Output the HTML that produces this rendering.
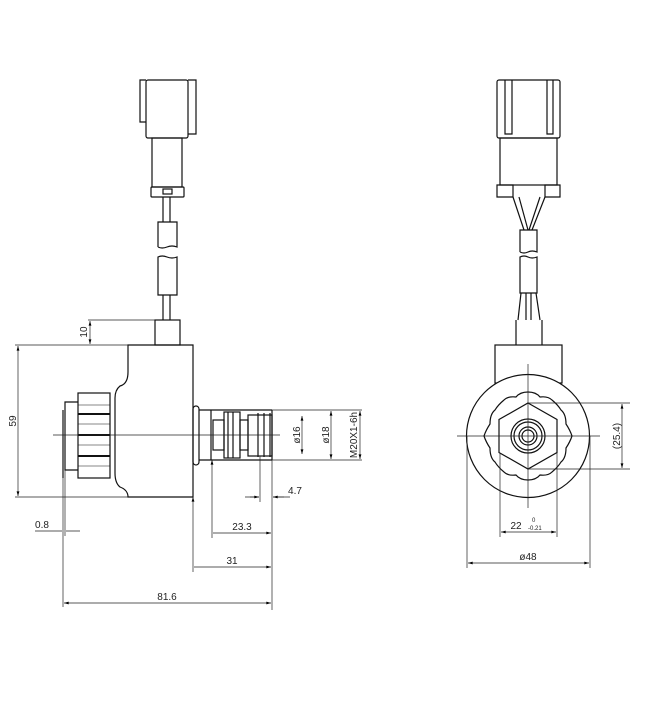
<!DOCTYPE html>
<html><head><style>body{margin:0;background:#fff}svg{display:block}</style></head><body>
<svg width="650" height="717" viewBox="0 0 650 717" xmlns="http://www.w3.org/2000/svg" font-family="Liberation Sans, sans-serif" font-size="10">
<defs><marker id="a" viewBox="0 0 10 6" refX="10" refY="3" markerWidth="8" markerHeight="4" orient="auto-start-reverse"><path d="M0,0L10,3L0,6z" fill="#000"/></marker></defs>
<g fill="none" stroke="#111" stroke-width="1.2">
<!-- left connector -->
<rect x="146" y="80" width="42" height="58" rx="2"/>
<path d="M146,80H140V122H146M188,80H196V134H188"/>
<rect x="152" y="138" width="30" height="49"/>
<rect x="151" y="187" width="33" height="10" rx="1"/>
<rect x="163" y="189" width="9" height="5"/>
<path d="M163,197V222M170,197V222"/>
<path d="M158,247V222H177V247Q172,245 167,247Q162,249 158,247"/>
<path d="M158,295V257Q162,255 167,257Q172,259 177,257V295Z"/>
<path d="M163,295V320M170,295V320"/>
<!-- left body -->
<rect x="155" y="320" width="25" height="25"/>
<path d="M128,345V372Q128,384 120,386Q115,390 115,398V473Q115,483 120,487Q128,490 128,497H193V345Z"/>
<rect x="78" y="393" width="32" height="85"/>
<path d="M78,402H65V470H78M63,410V478" />
<path d="M78,414H110M78,435H110M78,456H110" stroke-width="2"/>
<path d="M78,405H110M78,424H110M78,445H110M78,466H110" stroke-width=".6"/>
<!-- stem -->
<rect x="193" y="406" width="6" height="59" rx="3"/>
<path d="M199,410H272M199,460H272M211,410V460M272,410V460"/>
<rect x="213" y="420" width="11" height="30"/>
<rect x="224" y="412" width="16" height="46"/>
<path d="M228,412V458M233,412V458"/>
<rect x="240" y="420" width="8" height="30"/>
<rect x="248" y="415" width="24" height="41"/>
<path d="M258,413V457M264,413V457M270,413V457"/>
<!-- right view -->
<rect x="497" y="80" width="63" height="58" rx="2"/>
<path d="M505,80V134H512V80M547,80V134H553V80"/>
<rect x="500" y="138" width="57" height="47"/>
<path d="M497,185H513V197H497ZM545,185H560V197H545Z"/>
<path d="M513,197L524,230M519,197L528,230M545,197L532,230M540,197L529,230"/>
<path d="M520,252V230H537V252Q532,250 528,252Q524,254 520,252"/>
<path d="M520,293V257Q524,255 528,257Q532,259 537,257V293Z"/>
<path d="M521,293L518,320M526,293V320M531,293V320M536,293L540,320"/>
<path d="M516,320V345M542,320V345"/>
<rect x="495" y="345" width="67" height="38"/>
<circle cx="528" cy="436" r="61.5" fill="#fff"/>
<path d="M528,392Q536,392 540,397Q548,396 552,400Q558,405 561,410Q566,414 566,424Q570,430 572,436Q570,442 566,448Q566,458 561,462Q558,467 552,472Q548,476 540,475Q536,480 528,480Q520,480 516,475Q508,476 504,472Q498,467 495,462Q490,458 490,448Q486,442 484,436Q486,430 490,424Q490,414 495,410Q498,405 504,400Q508,396 516,397Q520,392 528,392Z"/>
<path d="M528,403L557,419.5V452.5L528,469L499,452.5V419.5Z"/>
<circle cx="528" cy="436" r="17"/><circle cx="528" cy="436" r="14"/><circle cx="528" cy="436" r="9"/><circle cx="528" cy="436" r="6"/>
</g>
<g fill="none" stroke="#222" stroke-width=".7">
<path d="M53,435H280M457,436H600M528,364V508"/>
<path d="M15,345H128M15,497H128"/>
<path d="M18,346V496" marker-start="url(#a)" marker-end="url(#a)"/>
<path d="M88,320H155"/>
<path d="M90,321V344" marker-start="url(#a)" marker-end="url(#a)"/>
<path d="M272,410H362M272,460H362"/>
<path d="M302,416V454" marker-start="url(#a)" marker-end="url(#a)"/>
<path d="M331,411V459" marker-start="url(#a)" marker-end="url(#a)"/>
<path d="M360,411V459" marker-start="url(#a)" marker-end="url(#a)"/>
<path d="M260,456V502M272,460V610M245,497H259M273,497H290" />
<path d="M250,497H259" marker-end="url(#a)"/><path d="M284,497H273" marker-end="url(#a)"/>
<path d="M63,478V607M65,470V536M35,531H62M66,531H80"/>
<path d="M212,460V538M213,533H271" marker-start="url(#a)" marker-end="url(#a)"/>
<path d="M193,497V572M194,567H271" marker-start="url(#a)" marker-end="url(#a)"/>
<path d="M64,603H271" marker-start="url(#a)" marker-end="url(#a)"/>
<path d="M528,403H630M528,469H630"/>
<path d="M622,404V468" marker-start="url(#a)" marker-end="url(#a)"/>
<path d="M500,453V537M557,453V537"/>
<path d="M501,532H556" marker-start="url(#a)" marker-end="url(#a)"/>
<path d="M467,436V568M590,436V568"/>
<path d="M468,563H589" marker-start="url(#a)" marker-end="url(#a)"/>
</g>
<g fill="#222" font-size="10">
<text transform="translate(16,421) rotate(-90)" text-anchor="middle">59</text>
<text transform="translate(87,332) rotate(-90)" text-anchor="middle">10</text>
<text transform="translate(300,435) rotate(-90)" text-anchor="middle">ø16</text>
<text transform="translate(329,435) rotate(-90)" text-anchor="middle">ø18</text>
<text transform="translate(357,435) rotate(-90)" text-anchor="middle">M20X1-6h</text>
<text x="295" y="494" text-anchor="middle">4.7</text>
<text x="42" y="528" text-anchor="middle">0.8</text>
<text x="242" y="530" text-anchor="middle">23.3</text>
<text x="232" y="564" text-anchor="middle">31</text>
<text x="167" y="600" text-anchor="middle">81.6</text>
<text transform="translate(620,436) rotate(-90)" text-anchor="middle">(25.4)</text>
<text x="516" y="529" text-anchor="middle">22</text>
<text x="532" y="522" font-size="6">0</text>
<text x="528" y="530" font-size="6">-0.21</text>
<text x="528" y="560" text-anchor="middle">ø48</text>
</g>
</svg>
</body></html>
